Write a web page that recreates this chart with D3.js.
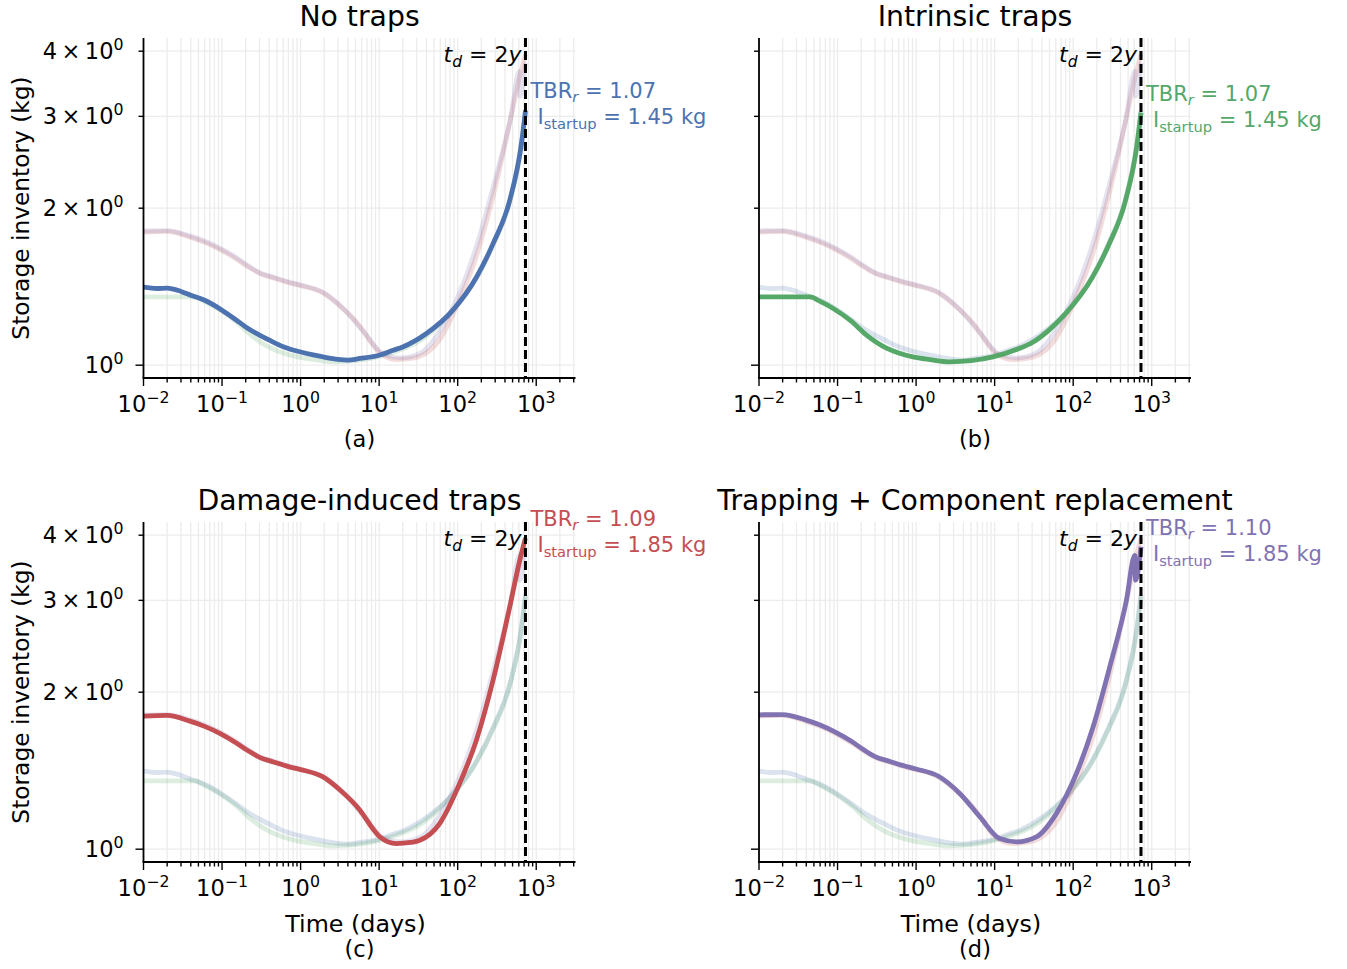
<!DOCTYPE html>
<html>
<head>
<meta charset="utf-8">
<script src="https://cdn.jsdelivr.net/npm/d3@7"></script>
<style>
  body { margin: 0; background: #fff; }
  svg { display: block; font-family: "DejaVu Sans", sans-serif; }
</style>
</head>
<body>
<svg id="chart" width="1347" height="969"></svg>
<script>
// Storage inventory over time (days) for four tritium-trapping scenarios.
const panelTitles = ["No traps", "Intrinsic traps", "Damage-induced traps", "Trapping + Component replacement"];
const panelLetters = ["(a)", "(b)", "(c)", "(d)"];
const seriesColors = ["#4c72b0", "#55a868", "#c44e52", "#8172b2"];
const tbrValues = [1.07, 1.07, 1.09, 1.10];
const startupInventory = [1.45, 1.45, 1.85, 1.85];
const doublingTimeDays = 730;

// No traps
const noTrapsTime = [0.01, 0.015, 0.02, 0.03, 0.04, 0.06, 0.1, 0.15, 0.2, 0.3, 0.4, 0.6, 1, 1.5, 2, 3, 4, 5.7, 10, 15, 20, 40, 87, 174, 283, 460, 648, 730];
const noTrapsInv  = [1.411, 1.403, 1.405, 1.385, 1.362, 1.332, 1.275, 1.222, 1.184, 1.142, 1.117, 1.085, 1.060, 1.045, 1.036, 1.026, 1.023, 1.030, 1.045, 1.068, 1.084, 1.150, 1.275, 1.476, 1.712, 2.070, 2.660, 3.080];

// Intrinsic traps
const intrinsicTime = [0.01, 0.0446, 0.06, 0.087, 0.144, 0.234, 0.42, 0.6, 0.91, 1.5, 2.7, 5, 9.5, 20, 31, 50, 81, 174, 283, 460, 648, 730];
const intrinsicInv  = [1.352, 1.352, 1.325, 1.286, 1.220, 1.142, 1.078, 1.055, 1.037, 1.025, 1.015, 1.020, 1.037, 1.075, 1.108, 1.170, 1.258, 1.470, 1.700, 2.060, 2.640, 3.050];

// Damage-induced traps
const damageTime = [0.01, 0.02, 0.039, 0.06, 0.095, 0.15, 0.21, 0.3, 0.45, 0.7, 1.0, 1.93, 3.2, 5.7, 8.6, 10.2, 16.6, 25, 33, 59, 106, 173, 282, 460, 617, 730];
const damageInv  = [1.800, 1.805, 1.760, 1.720, 1.666, 1.600, 1.548, 1.500, 1.470, 1.440, 1.421, 1.376, 1.297, 1.188, 1.087, 1.056, 1.025, 1.030, 1.040, 1.120, 1.337, 1.618, 2.108, 2.914, 3.580, 3.950];

// Trapping + component replacement
const replacementTime = [0.01, 0.02, 0.039, 0.06, 0.095, 0.15, 0.21, 0.3, 0.45, 0.7, 1.0, 1.93, 3.6, 6.5, 11.6, 19, 34, 61, 110, 179, 292, 476, 608, 622, 730];
const replacementInv  = [1.810, 1.812, 1.770, 1.730, 1.675, 1.610, 1.555, 1.505, 1.475, 1.445, 1.425, 1.380, 1.279, 1.153, 1.048, 1.033, 1.056, 1.170, 1.397, 1.715, 2.236, 3.000, 3.660, 3.280, 3.800];

const xTickExponents = [-2, -1, 0, 1, 2, 3];
const yTickValues = [1, 2, 3, 4];

const seriesTime = [noTrapsTime, intrinsicTime, damageTime, replacementTime];
const seriesInv = [noTrapsInv, intrinsicInv, damageInv, replacementInv];
const series = seriesTime.map((t, i) => t.map((d, j) => ({ t: d, v: seriesInv[i][j] })));

const svg = d3.select("#chart");
const W = 432, H = 340;
const lefts = [143.5, 759];
const tops = [38, 522];
const FS = 22.5;

function supLabel(textSel, base, exp, supShift) {
  textSel.append("tspan").text(base);
  textSel.append("tspan").attr("font-size", FS * 0.7).attr("dy", -supShift).text(exp);
}

panelTitles.forEach((title, p) => {
  const col = p % 2, row = Math.floor(p / 2);
  const left = lefts[col], top = tops[row];
  const bottom = top + H, right = left + W;

  const x = d3.scaleLog().domain([0.01, Math.pow(10, 3.5)]).range([left, right]);
  const y = d3.scaleLog().domain([0.945, 4.24]).range([bottom, top]);

  const g = svg.append("g");

  // grid (major and minor along x, labelled values along y)
  const xMinor = [];
  for (let e = -2; e <= 3; e++) for (let k = 1; k <= 9; k++) {
    const v = k * Math.pow(10, e);
    if (v >= 0.01 && v <= Math.pow(10, 3.5)) xMinor.push(v);
  }
  g.selectAll(null).data(xMinor).join("line")
    .attr("x1", d => x(d)).attr("x2", d => x(d))
    .attr("y1", top).attr("y2", bottom)
    .attr("stroke", "#ececec").attr("stroke-width", 1.3);
  g.selectAll(null).data(yTickValues).join("line")
    .attr("x1", left).attr("x2", right)
    .attr("y1", d => y(d)).attr("y2", d => y(d))
    .attr("stroke", "#ececec").attr("stroke-width", 1.3);

  // curves
  const clipId = "clip" + p;
  svg.append("clipPath").attr("id", clipId).append("rect")
    .attr("x", left).attr("y", top - 6).attr("width", W).attr("height", H + 6);
  const line = d3.line().x(d => x(d.t)).y(d => y(d.v)).curve(d3.curveMonotoneX);
  const lg = g.append("g").attr("clip-path", `url(#${clipId})`);
  series.forEach((s, i) => {
    if (i === p) return;
    lg.append("path").attr("d", line(s)).attr("fill", "none")
      .attr("stroke", seriesColors[i]).attr("stroke-width", 4.8)
      .attr("stroke-opacity", 0.2).attr("stroke-linejoin", "round");
  });
  lg.append("path").attr("d", line(series[p])).attr("fill", "none")
    .attr("stroke", seriesColors[p]).attr("stroke-width", 4.8)
    .attr("stroke-linejoin", "round");

  // doubling-time marker
  const xd = x(doublingTimeDays);
  g.append("line").attr("x1", xd).attr("x2", xd).attr("y1", top).attr("y2", bottom)
    .attr("stroke", "#000").attr("stroke-width", 3).attr("stroke-dasharray", "9,4");

  // spines
  g.append("line").attr("x1", left).attr("x2", left).attr("y1", top).attr("y2", bottom)
    .attr("stroke", "#000").attr("stroke-width", 1.8);
  g.append("line").attr("x1", left - 0.9).attr("x2", right).attr("y1", bottom).attr("y2", bottom)
    .attr("stroke", "#000").attr("stroke-width", 1.8);

  // x ticks
  g.selectAll(null).data(xMinor).join("line")
    .attr("x1", d => x(d)).attr("x2", d => x(d))
    .attr("y1", bottom).attr("y2", d => bottom + (xTickExponents.some(e => Math.abs(Math.pow(10, e) - d) < 1e-9) ? 8 : 4.5))
    .attr("stroke", "#000").attr("stroke-width", 1.4);
  xTickExponents.forEach(e => {
    const t = g.append("text").attr("x", x(Math.pow(10, e))).attr("y", bottom + 34)
      .attr("text-anchor", "middle").attr("font-size", FS).attr("fill", "#000");
    supLabel(t, "10", e < 0 ? "\u2212" + Math.abs(e) : String(e), 9.5);
  });

  // y ticks
  g.selectAll(null).data(yTickValues).join("line")
    .attr("x1", d => left - (d === 1 ? 8 : 5)).attr("x2", left)
    .attr("y1", d => y(d)).attr("y2", d => y(d))
    .attr("stroke", "#000").attr("stroke-width", 1.4);
  if (col === 0) {
    yTickValues.forEach(v => {
      const t = g.append("text").attr("x", left - 20).attr("y", y(v) + 8)
        .attr("text-anchor", "end").attr("font-size", FS).attr("fill", "#000");
      supLabel(t, v === 1 ? "10" : v + "\u2009\u00d7\u200910", "0", 9.5);
    });
    g.append("text")
      .attr("transform", `translate(29,${(top + bottom) / 2}) rotate(-90)`)
      .attr("text-anchor", "middle").attr("font-size", 23.3).attr("fill", "#000")
      .text("Storage inventory (kg)");
  }

  // title and x labels
  g.append("text").attr("x", (left + right) / 2).attr("y", top - 12)
    .attr("text-anchor", "middle").attr("font-size", 28.3).attr("fill", "#000").text(title);
  if (row === 0) {
    g.append("text").attr("x", (left + right) / 2).attr("y", bottom + 69)
      .attr("text-anchor", "middle").attr("font-size", FS).attr("fill", "#000").text(panelLetters[p]);
  } else {
    g.append("text").attr("x", (left + right) / 2 - 4).attr("y", bottom + 70)
      .attr("text-anchor", "middle").attr("font-size", 23.8).attr("fill", "#000").text("Time (days)");
    g.append("text").attr("x", (left + right) / 2).attr("y", bottom + 95)
      .attr("text-anchor", "middle").attr("font-size", FS).attr("fill", "#000").text(panelLetters[p]);
  }

  // t_d = 2y
  const td = g.append("text").attr("x", xd - 4).attr("y", top + 24)
    .attr("text-anchor", "end").attr("font-size", 22).attr("fill", "#000");
  td.append("tspan").attr("font-style", "italic").text("t");
  td.append("tspan").attr("font-style", "italic").attr("font-size", 15.5).attr("dy", 5).text("d");
  td.append("tspan").attr("dy", -5).text(" = 2");
  td.append("tspan").attr("font-style", "italic").text("y");

  // TBR and startup inventory at the end of the highlighted curve
  const endVal = seriesInv[p][seriesInv[p].length - 1];
  const yEnd = y(endVal);
  const c = seriesColors[p];
  const tbr = g.append("text").attr("x", xd + 5).attr("y", yEnd - 12)
    .attr("font-size", 21).attr("fill", c);
  tbr.append("tspan").text("TBR");
  tbr.append("tspan").attr("font-style", "italic").attr("font-size", 14.7).attr("dy", 4).text("r");
  tbr.append("tspan").attr("dy", -4).text(" = " + tbrValues[p].toFixed(2));

  const st = g.append("text").attr("x", xd + 12).attr("y", yEnd + 14)
    .attr("font-size", 21).attr("fill", c);
  st.append("tspan").text("I");
  st.append("tspan").attr("font-size", 14.7).attr("dy", 5).text("startup");
  st.append("tspan").attr("dy", -5).text(" = " + startupInventory[p].toFixed(2) + " kg");
});
</script>
</body>
</html>
